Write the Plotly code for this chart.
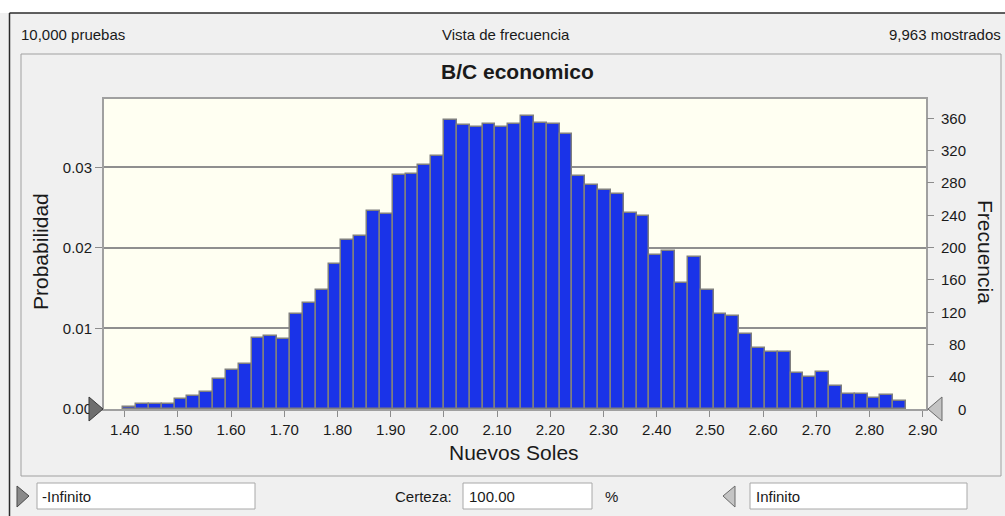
import plotly.graph_objects as go

# Histogram of simulated B/C ratio (Crystal Ball style frequency view)
trials_total = 10000
trials_shown = 9963
bin_start = 1.3974
bin_width = 0.02412
counts = [3, 6, 6, 6, 12, 16, 21, 37, 48, 56, 88,
          90, 87, 117, 131, 147, 180, 209, 214, 245, 241, 290, 291,
          302, 313, 358, 351, 349, 353, 349, 353, 363, 354, 353,
          340, 288, 277, 271, 266, 243, 239, 190, 196, 156, 188,
          147, 118, 115, 93, 75, 71, 71, 44, 40, 46, 28,
          19, 19, 13, 17, 10]
x_ticks = [1.40, 1.50, 1.60, 1.70, 1.80, 1.90, 2.00, 2.10, 2.20, 2.30,
           2.40, 2.50, 2.60, 2.70, 2.80, 2.90]
prob_ticks = [0.00, 0.01, 0.02, 0.03]
freq_ticks = [0, 40, 80, 120, 160, 200, 240, 280, 320, 360]

centers = [bin_start + bin_width * (i + 0.5) for i in range(len(counts))]

W, H = 1005, 516
L, R, T, B = 104, 926, 99, 409
freq_max = 383.6


def fx(px):
    return (px - L) / (R - L)


def fy(py):
    return (B - py) / (B - T)


def path(points):
    pts = [f"{fx(a):.5f},{fy(b):.5f}" for a, b in points]
    return "M " + " L ".join(pts) + " Z"


FONT = "Liberation Sans, Arial, sans-serif"
INK = "#1a1a1a"

fig = go.Figure()
fig.add_trace(go.Bar(
    x=centers, y=counts, width=bin_width, yaxis="y2",
    marker=dict(color="#1a33e8", line=dict(color="#7f7f7f", width=1.5)),
    hoverinfo="x+y",
))
# invisible trace so the probability axis is drawn
fig.add_trace(go.Scatter(x=[centers[0]], y=[0], yaxis="y", mode="markers",
                         marker=dict(opacity=0), showlegend=False,
                         hoverinfo="skip"))

shapes = []
# white strip above the window frame
shapes.append(dict(type="rect", xref="paper", yref="paper",
                   x0=fx(0), x1=fx(W), y0=fy(13), y1=fy(0),
                   fillcolor="#ffffff", line=dict(width=0), layer="below"))
# window frame
shapes.append(dict(type="line", xref="paper", yref="paper",
                   x0=fx(9.5), x1=fx(W), y0=fy(13), y1=fy(13),
                   line=dict(color="#2b2b2b", width=1.5)))
shapes.append(dict(type="line", xref="paper", yref="paper",
                   x0=fx(9.5), x1=fx(9.5), y0=fy(13), y1=fy(H),
                   line=dict(color="#2b2b2b", width=1.5)))
# chart panel border
shapes.append(dict(type="rect", xref="paper", yref="paper",
                   x0=fx(21), x1=fx(1001), y0=fy(476), y1=fy(54),
                   line=dict(color="#a0a0a0", width=1), layer="below"))
# entry boxes
for x0, x1 in [(37, 255), (463, 592), (750, 967)]:
    shapes.append(dict(type="rect", xref="paper", yref="paper",
                       x0=fx(x0), x1=fx(x1), y0=fy(509), y1=fy(483),
                       fillcolor="#ffffff", line=dict(color="#a8a8a8", width=1)))
# grabber triangles
shapes.append(dict(type="path", xref="paper", yref="paper",
                   path=path([(89, 397), (103, 409), (89, 421)]),
                   fillcolor="#6e6e6e", line=dict(color="#3a3a3a", width=1)))
shapes.append(dict(type="path", xref="paper", yref="paper",
                   path=path([(942, 397), (928, 409), (942, 421)]),
                   fillcolor="#c4c4c4", line=dict(color="#6a6a6a", width=1)))
shapes.append(dict(type="path", xref="paper", yref="paper",
                   path=path([(17, 486), (29, 496), (17, 507)]),
                   fillcolor="#8a8a8a", line=dict(color="#4a4a4a", width=1)))
shapes.append(dict(type="path", xref="paper", yref="paper",
                   path=path([(735, 486), (723, 496), (735, 507)]),
                   fillcolor="#c4c4c4", line=dict(color="#6a6a6a", width=1)))

ann = []


def text(s, px, py, size=15, anchor="left", bold=False, angle=0, color=INK):
    ann.append(dict(text=f"<b>{s}</b>" if bold else s,
                    x=fx(px), y=fy(py), xref="paper", yref="paper",
                    xanchor=anchor, yanchor="middle", showarrow=False,
                    textangle=angle,
                    font=dict(family=FONT, size=size, color=color)))


text(f"{trials_total:,} pruebas", 19, 35)
text("Vista de frecuencia", 506, 35, anchor="center")
text(f"{trials_shown:,} mostrados", 1003, 35, anchor="right")
text("B/C economico", 517, 71, 21, "center", bold=True)
text("Nuevos Soles", 514, 452, 21, "center")
text("Probabilidad", 40, 252, 21, "center", angle=-90)
text("Frecuencia", 986, 252, 21, "center", angle=90)
text("-Infinito", 40, 496)
text("Certeza:", 454, 496, anchor="right")
text("100.00", 467, 496)
text("%", 611, 496, anchor="center")
text("Infinito", 754, 496)

# right-aligned frequency tick labels on the secondary axis
for v in freq_ticks:
    ann.append(dict(text=str(v), x=fx(968), y=v, xref="paper", yref="y2",
                    xanchor="right", yanchor="middle", showarrow=False,
                    font=dict(family=FONT, size=15, color=INK)))

x_lo = 1.40 - (124.7 - L) / 532.0
x_hi = 1.40 + (R - 124.7) / 532.0

fig.update_layout(
    width=W, height=H,
    margin=dict(l=L, r=W - R, t=T, b=H - B, pad=0),
    paper_bgcolor="#f0f0f0",
    plot_bgcolor="#fffff2",
    showlegend=False,
    bargap=0,
    shapes=shapes,
    annotations=ann,
    font=dict(family=FONT, size=15, color=INK),
    xaxis=dict(range=[x_lo, x_hi], tickvals=x_ticks,
               ticktext=[f"{v:.2f}" for v in x_ticks],
               ticks="outside", ticklen=6, tickcolor="#8c8c8c", tickwidth=1,
               showgrid=False, zeroline=False,
               showline=True, mirror=True, linecolor="#a0a0a0", linewidth=2,
               tickfont=dict(size=15)),
    yaxis=dict(range=[0, freq_max / trials_shown], tickvals=prob_ticks,
               ticktext=[f"{v:.2f}" for v in prob_ticks],
               ticks="outside", ticklen=7, tickcolor="#8c8c8c", tickwidth=1,
               showgrid=True, gridcolor="#8f8f8f", gridwidth=1.5,
               zeroline=False,
               showline=True, mirror=True, linecolor="#a0a0a0", linewidth=2,
               tickfont=dict(size=15)),
    yaxis2=dict(range=[0, freq_max], tickvals=freq_ticks, overlaying="y",
                side="right", ticks="outside", ticklen=7, tickcolor="#8c8c8c",
                tickwidth=1, showticklabels=False, showgrid=False,
                zeroline=False, showline=False),
)

fig.write_html("out.html")
